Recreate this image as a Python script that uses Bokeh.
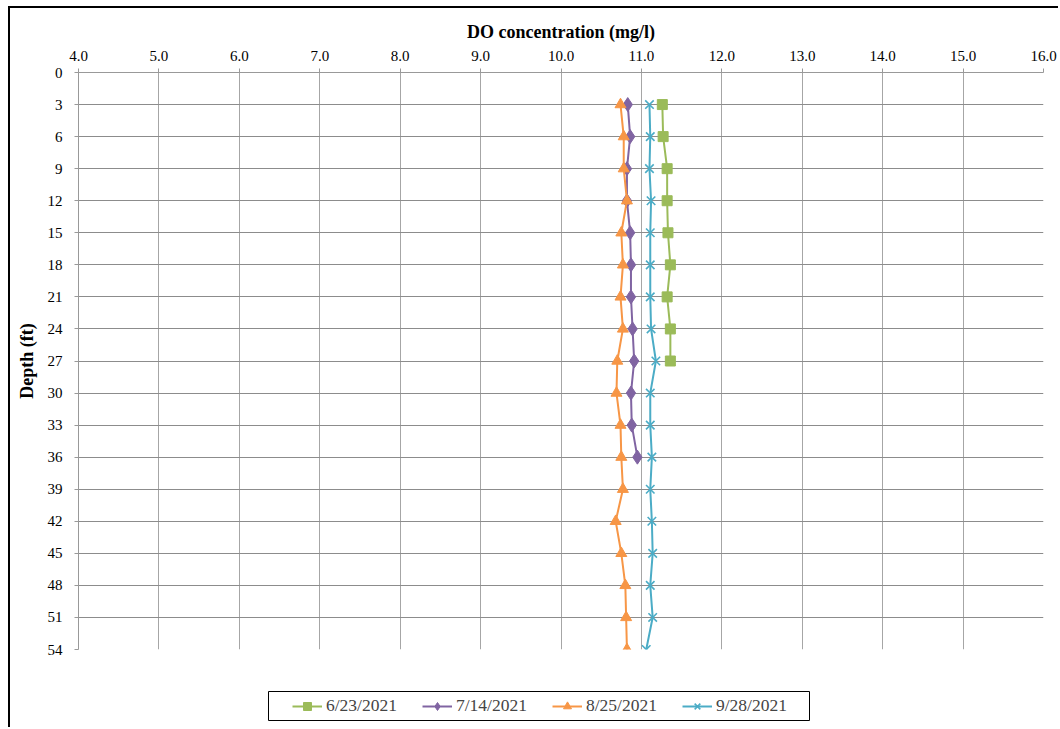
from bokeh.plotting import figure
from bokeh.layouts import column
from bokeh.models import Range1d, FixedTicker, NumeralTickFormatter, Legend, LegendItem, BoxAnnotation
from bokeh.embed import file_html
from bokeh.resources import INLINE

depths_jun = [3, 6, 9, 12, 15, 18, 21, 24, 27]
do_jun = [11.26, 11.27, 11.32, 11.32, 11.33, 11.36, 11.32, 11.36, 11.36]

depths_jul = [3, 6, 9, 12, 15, 18, 21, 24, 27, 30, 33, 36]
do_jul = [10.83, 10.86, 10.82, 10.82, 10.86, 10.87, 10.87, 10.89, 10.91, 10.87, 10.88, 10.95]

depths_aug = [3, 6, 9, 12, 15, 18, 21, 24, 27, 30, 33, 36, 39, 42, 45, 48, 51, 54]
do_aug = [10.74, 10.78, 10.78, 10.82, 10.75, 10.77, 10.74, 10.77, 10.70, 10.69, 10.74, 10.75,
          10.77, 10.68, 10.75, 10.80, 10.81, 10.82]

depths_sep = [3, 6, 9, 12, 15, 18, 21, 24, 27, 30, 33, 36, 39, 42, 45, 48, 51, 54]
do_sep = [11.10, 11.11, 11.10, 11.12, 11.11, 11.11, 11.11, 11.12, 11.18, 11.11, 11.11, 11.13,
          11.11, 11.13, 11.14, 11.11, 11.14, 11.06]

labels = ["6/23/2021", "7/14/2021", "8/25/2021", "9/28/2021"]
x_ticks = [4, 5, 6, 7, 8, 9, 10, 11, 12, 13, 14, 15, 16]
y_ticks = list(range(0, 55, 3))

FONT = "Liberation Serif"
green, purple, orange, cyan = "#9BBB59", "#8064A2", "#F79646", "#4BACC6"

p = figure(width=1048, height=651, output_backend="svg", toolbar_location=None,
           x_range=Range1d(4, 16), y_range=Range1d(54, 0),
           x_axis_location="above", min_border_left=68, min_border_top=64,
           min_border_right=15, min_border_bottom=10)
p.outline_line_color = None
p.background_fill_color = "white"
p.border_fill_color = "white"

for ax in (p.xaxis[0], p.yaxis[0]):
    ax.axis_line_color = "#999999"
    ax.major_tick_line_color = "#999999"
    ax.major_tick_in = 0
    ax.major_tick_out = 4
    ax.minor_tick_line_color = None
    ax.major_label_text_font = FONT
    ax.major_label_text_font_size = "15px"
    ax.major_label_text_color = "black"
    ax.axis_label_text_font = FONT
    ax.axis_label_text_font_style = "bold"
    ax.axis_label_text_font_size = "18px"
    ax.axis_label_text_color = "black"

p.xaxis[0].ticker = FixedTicker(ticks=x_ticks)
p.xaxis[0].formatter = NumeralTickFormatter(format="0.0")
p.xaxis[0].axis_label = "DO concentration (mg/l)"
p.xaxis[0].major_label_standoff = 8
p.xaxis[0].axis_label_standoff = 6
p.yaxis[0].ticker = FixedTicker(ticks=y_ticks)
p.yaxis[0].axis_label = "Depth (ft)"
p.yaxis[0].major_label_standoff = 12
p.yaxis[0].axis_label_standoff = 8

p.xgrid.ticker = FixedTicker(ticks=x_ticks)
p.ygrid.ticker = FixedTicker(ticks=y_ticks)
p.xgrid.grid_line_color = "#a6a6a6"
p.ygrid.grid_line_color = "#8c8c8c"

specs = [(green, "square", 10), (purple, "diamond", 14), (orange, "triangle", 11), (cyan, "x", 12)]
series = [(do_jun, depths_jun), (do_jul, depths_jul), (do_aug, depths_aug), (do_sep, depths_sep)]


def draw(fig, xs, ys, col, mk, sz):
    lr = fig.line(xs, ys, line_color=col, line_width=2)
    if mk == "x":
        mr = fig.scatter(xs, ys, marker=mk, size=sz, line_color=col, line_width=1.6)
    else:
        mr = fig.scatter(xs, ys, marker=mk, size=sz, fill_color=col, line_color=col)
    return lr, mr


for (xs, ys), (col, mk, sz) in zip(series, specs):
    draw(p, xs, ys, col, mk, sz)

# legend strip below the plot; its frame is aligned with the main frame by the column,
# so the pixel-based x range spans the main frame's page position
q = figure(width=1048, height=68, output_backend="svg", toolbar_location=None,
           x_range=Range1d(78, 1043), y_range=Range1d(68, 0), x_axis_type=None, y_axis_type=None,
           min_border_left=0, min_border_right=0, min_border_top=0, min_border_bottom=0)
q.outline_line_color = None
q.grid.visible = False
q.border_fill_color = "white"
q.background_fill_color = "white"

q.add_layout(BoxAnnotation(left=268, right=809, top=32, bottom=61,
                           fill_alpha=0, line_color="black", line_width=1, line_alpha=1))

off = [-100]
items = []
for lab, (col, mk, sz) in zip(labels, specs):
    lr, mr = draw(q, off, off, col, mk, sz)
    items.append(LegendItem(label=lab, renderers=[lr, mr]))

legend = Legend(items=items, orientation="horizontal", location=(214, 11),
                border_line_color=None, background_fill_alpha=0,
                label_text_font=FONT, label_text_font_size="17.5px",
                glyph_width=30, label_standoff=4, spacing=25, padding=0, margin=0,
                label_height=20, glyph_height=20)
q.add_layout(legend, "center")

layout = column(p, q, spacing=0)
layout.styles = {"border-left": "2px solid black", "border-top": "2px solid black",
                 "margin-left": "8px", "margin-top": "6px"}

open("out.html", "w").write(file_html(layout, INLINE))
